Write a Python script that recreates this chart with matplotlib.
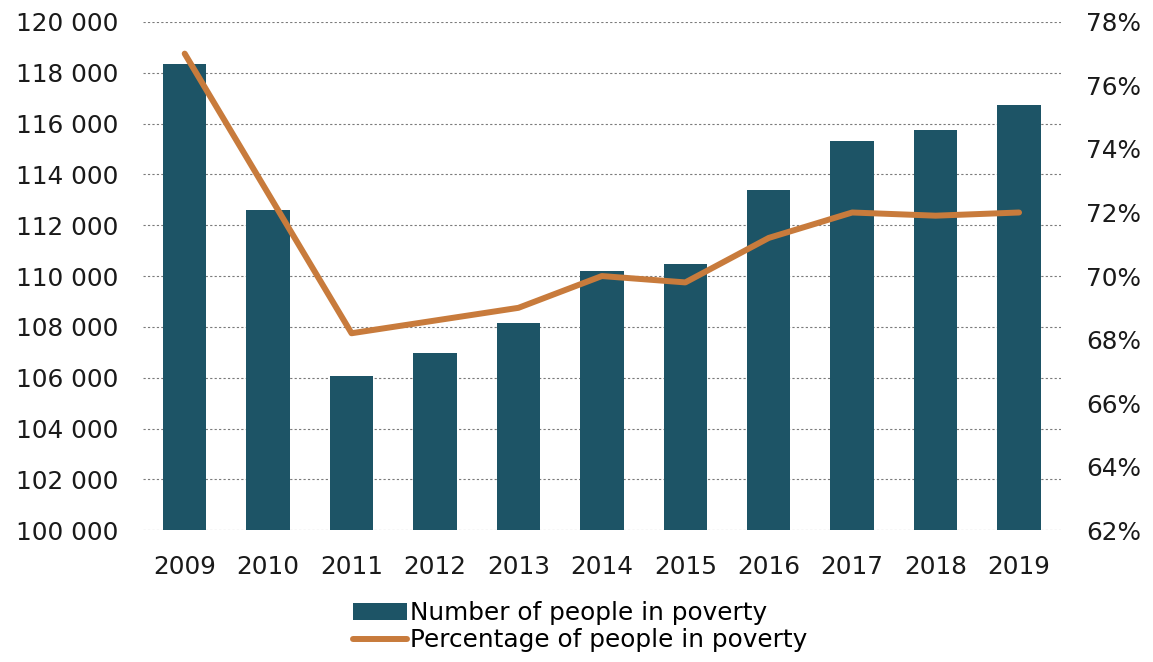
import matplotlib
matplotlib.use("Agg")
import matplotlib.pyplot as plt
from matplotlib.ticker import FuncFormatter, MultipleLocator

# poverty figures by year
years = ["2009", "2010", "2011", "2012", "2013", "2014",
         "2015", "2016", "2017", "2018", "2019"]
people = [118350, 112600, 106080, 106960, 108160, 110200,
          110460, 113390, 115320, 115740, 116720]
share_pct = [77.0, 72.6, 68.2, 68.6, 69.0, 70.0,
             69.8, 71.2, 72.0, 71.9, 72.0]

BAR_COLOR = "#1d5466"
LINE_COLOR = "#c87b3c"
FONT_SIZE = 17.8

plt.rcParams["font.family"] = ["DejaVu Sans"]

fig = plt.figure(figsize=(11.53, 6.62), dpi=100)
ax = fig.add_axes([0.124, 0.199, 0.796, 0.768])
ax2 = ax.twinx()

x = range(len(years))
ax.bar(x, people, width=0.52, color=BAR_COLOR, zorder=2,
       label="Number of people in poverty")
ax2.plot(x, share_pct, color=LINE_COLOR, linewidth=4.3, solid_capstyle="round",
         zorder=3, label="Percentage of people in poverty")

ax.set_xlim(-0.5, len(years) - 0.5)
ax.set_ylim(100000, 120000)
ax2.set_ylim(62, 78)
ax.yaxis.set_major_locator(MultipleLocator(2000))
ax2.yaxis.set_major_locator(MultipleLocator(2))
ax.yaxis.set_major_formatter(FuncFormatter(lambda v, p: f"{int(v):,}".replace(",", " ")))
ax2.yaxis.set_major_formatter(FuncFormatter(lambda v, p: f"{int(v)}%"))

ax.set_xticks(list(x))
ax.set_xticklabels(years)

ax.grid(axis="y", color="#7a7a7a", linestyle=(0, (2, 2)), linewidth=0.8, zorder=0)
ax.set_axisbelow(True)

for a in (ax, ax2):
    for s in a.spines.values():
        s.set_visible(False)
    a.tick_params(length=0, labelsize=FONT_SIZE, colors="#1a1a1a")
ax.tick_params(axis="y", pad=18)
ax.tick_params(axis="x", pad=18)
ax2.tick_params(axis="y", pad=18)

h1, l1 = ax.get_legend_handles_labels()
h2, l2 = ax2.get_legend_handles_labels()
fig.legend(h1 + h2, l1 + l2, loc="center", bbox_to_anchor=(0.503, 0.053),
           frameon=False, fontsize=FONT_SIZE, handlelength=2.2, handletextpad=0.1,
           labelspacing=0.12, borderpad=0)

fig.savefig("out.png", dpi=100)
